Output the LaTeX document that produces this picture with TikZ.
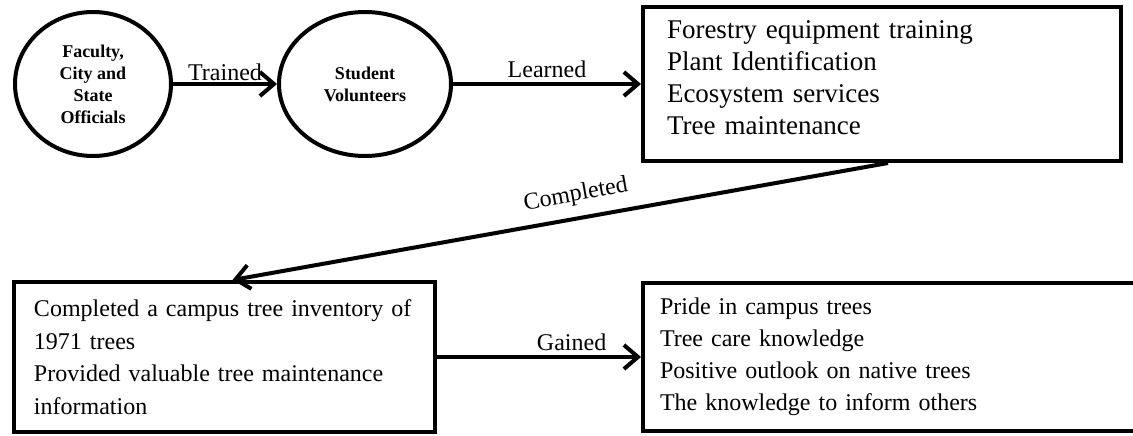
\documentclass[tikz,border=0pt]{standalone}
\usepackage{fontspec}
\setmainfont{Liberation Serif}
\usetikzlibrary{arrows.meta,shapes.geometric}

\tikzset{
  orb/.style={ellipse, draw, line width=4pt, inner sep=0pt, align=center,
    font=\bfseries\fontsize{18}{22}\selectfont},
  listbox/.style={rectangle, draw, line width=4pt, align=left},
  arr/.style={-{Straight Barb[length=14pt,width=24pt]}, line width=4pt},
  tag/.style={font=\fontsize{24}{28}\selectfont},
}

\begin{document}
\begin{tikzpicture}[x=1pt,y=-1pt]
		\useasboundingbox (0,0) rectangle (1133,436);
		
		% 两个椭圆：培训者与学生
		\node[orb, minimum width=156pt, minimum height=144pt] (faculty) at (93,84)
			{Faculty,\\City and\\State\\Officials};
		\node[orb, minimum width=172pt, minimum height=144pt] (students) at (365,84)
			{Student\\Volunteers};
		
		% 三个文字框
		\node[listbox, minimum width=478pt, minimum height=154pt, inner xsep=24pt,
			text width=430pt, font=\fontsize{27}{32}\selectfont] (learnbox) at (882,84)
			{Forestry equipment training\\Plant Identification\\Ecosystem services\\Tree maintenance\\[-19pt]\mbox{}};
		\node[listbox, minimum width=421pt, minimum height=150pt, inner xsep=20pt,
			text width=381pt, font=\fontsize{24}{32.5}\selectfont] (workbox) at (224.5,357)
			{Completed a campus tree inventory of\\1971 trees\\Provided valuable tree maintenance\\information};
		\node[listbox, minimum width=517pt, minimum height=148pt, inner xsep=17pt,
			text width=483pt, font=\fontsize{24}{32}\selectfont] (gainbox) at (901.5,357)
			{Pride in campus trees\\Tree care knowledge\\Positive outlook on native trees\\The knowledge to inform others};
		
		% 箭头与标签
		\draw[arr] (faculty) -- (students) node[tag, midway, above, inner sep=1pt] {Trained};
		\draw[arr] (students) -- (learnbox) node[tag, midway, above, inner sep=4pt] {Learned};
		\draw[arr] ([xshift=6pt]learnbox.south) -- ([xshift=8pt]workbox.north)
			node[tag, pos=0.47, sloped, above=7pt] {Completed};
		\draw[arr] (workbox) -- (gainbox) node[tag, pos=0.66, above, inner sep=4pt] {Gained};
	\end{tikzpicture}
\end{document}
